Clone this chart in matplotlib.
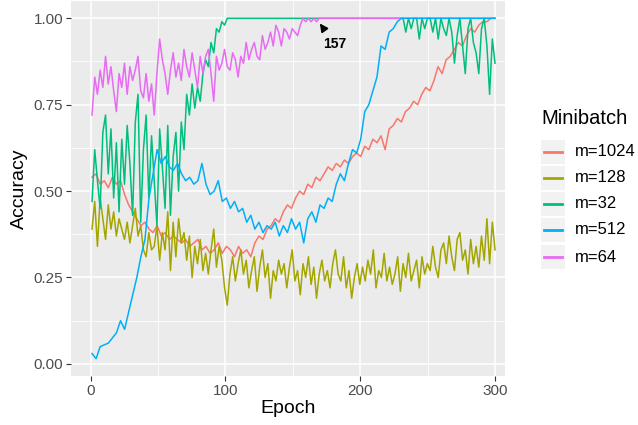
import numpy as np
import matplotlib
matplotlib.use("Agg")
import matplotlib.pyplot as plt
from matplotlib.patches import Rectangle
from matplotlib.lines import Line2D

plt.rcParams['font.family'] = ['Liberation Sans', 'DejaVu Sans']

# smoother runs read every ~3 epochs, noisy runs every ~2 epochs
epochs_3 = np.linspace(1, 300, 100)
epochs_2 = np.linspace(1, 300, 150)

acc_1024 = [0.54, 0.55, 0.52, 0.53, 0.51, 0.54, 0.52, 0.53, 0.49, 0.46,
            0.44, 0.42, 0.40, 0.41, 0.39, 0.38, 0.40, 0.37, 0.38, 0.36,
            0.37, 0.36, 0.35, 0.36, 0.34, 0.35, 0.36, 0.33, 0.34, 0.32,
            0.33, 0.35, 0.32, 0.34, 0.33, 0.31, 0.34, 0.32, 0.33, 0.31,
            0.35, 0.37, 0.36, 0.39, 0.40, 0.42, 0.41, 0.44, 0.46, 0.45,
            0.48, 0.50, 0.49, 0.52, 0.51, 0.54, 0.53, 0.55, 0.57, 0.56,
            0.58, 0.57, 0.59, 0.58, 0.60, 0.61, 0.60, 0.63, 0.62, 0.65,
            0.64, 0.66, 0.62, 0.68, 0.69, 0.71, 0.70, 0.73, 0.74, 0.76,
            0.75, 0.78, 0.80, 0.79, 0.82, 0.86, 0.84, 0.88, 0.89, 0.91,
            0.93, 0.92, 0.95, 0.97, 0.96, 0.98, 0.99, 0.99, 1.00, 1.00]

acc_128 = [0.39, 0.47, 0.34, 0.48, 0.42, 0.36, 0.46, 0.39, 0.44, 0.37,
           0.42, 0.39, 0.36, 0.41, 0.35, 0.40, 0.45, 0.37, 0.40, 0.33,
           0.31, 0.38, 0.33, 0.34, 0.40, 0.30, 0.38, 0.33, 0.44, 0.27,
           0.41, 0.31, 0.42, 0.35, 0.38, 0.30, 0.37, 0.25, 0.34, 0.29,
           0.36, 0.27, 0.32, 0.26, 0.33, 0.39, 0.28, 0.34, 0.30, 0.22,
           0.17, 0.26, 0.31, 0.24, 0.29, 0.33, 0.26, 0.30, 0.22, 0.27,
           0.31, 0.21, 0.28, 0.33, 0.25, 0.29, 0.19, 0.27, 0.24, 0.30,
           0.26, 0.29, 0.22, 0.28, 0.33, 0.24, 0.27, 0.20, 0.29, 0.25,
           0.31, 0.23, 0.28, 0.19, 0.26, 0.30, 0.24, 0.27, 0.22, 0.29,
           0.33, 0.26, 0.24, 0.31, 0.22, 0.27, 0.19, 0.25, 0.29, 0.23,
           0.28, 0.24, 0.30, 0.26, 0.33, 0.22, 0.27, 0.25, 0.32, 0.24,
           0.28, 0.23, 0.26, 0.31, 0.21, 0.29, 0.25, 0.32, 0.24, 0.27,
           0.30, 0.22, 0.31, 0.26, 0.29, 0.27, 0.34, 0.28, 0.25, 0.33,
           0.35, 0.29, 0.37, 0.31, 0.27, 0.36, 0.38, 0.30, 0.33, 0.26,
           0.36, 0.29, 0.34, 0.28, 0.37, 0.30, 0.42, 0.29, 0.41, 0.33]

acc_32 = ([0.47, 0.62, 0.53, 0.45, 0.67, 0.72, 0.55, 0.68, 0.48, 0.64,
           0.44, 0.65, 0.52, 0.69, 0.58, 0.43, 0.70, 0.78, 0.41, 0.62,
           0.72, 0.48, 0.66, 0.53, 0.40, 0.68, 0.57, 0.45, 0.69, 0.43,
           0.60, 0.67, 0.50, 0.70, 0.62, 0.78, 0.72, 0.81, 0.74, 0.80,
           0.76, 0.84, 0.88, 0.86, 0.93, 0.90, 0.97, 0.96, 0.99, 0.98]
          + [1.00] * 65
          + [1.00, 0.96, 1.00, 0.97, 1.00, 1.00, 0.94, 1.00, 0.97, 1.00,
             1.00, 0.96, 1.00, 0.94, 1.00, 0.97, 0.95, 1.00, 0.96, 0.87,
             0.95, 1.00, 0.92, 0.84, 0.97, 1.00, 0.93, 0.90, 0.84, 0.97,
             1.00, 0.92, 0.78, 0.94, 0.87])

acc_512 = ([0.03, 0.015, 0.05, 0.055, 0.06, 0.075, 0.09, 0.125, 0.10, 0.15,
            0.20, 0.25, 0.31, 0.36, 0.48, 0.55, 0.62, 0.58, 0.60, 0.57,
            0.56, 0.58, 0.55, 0.53, 0.54, 0.52, 0.53, 0.58, 0.52, 0.49,
            0.50, 0.53, 0.47, 0.48, 0.45, 0.47, 0.44, 0.45, 0.41, 0.43,
            0.39, 0.41, 0.38, 0.40, 0.39, 0.41, 0.37, 0.40, 0.38, 0.42,
            0.39, 0.41, 0.35, 0.42, 0.44, 0.41, 0.46, 0.45, 0.48, 0.47,
            0.52, 0.55, 0.53, 0.58, 0.62, 0.61, 0.65, 0.73, 0.75, 0.79,
            0.83, 0.92, 0.91, 0.96, 0.97, 0.99]
           + [1.00] * 24)

acc_64 = ([0.72, 0.83, 0.78, 0.85, 0.80, 0.89, 0.81, 0.86, 0.79, 0.73,
           0.84, 0.80, 0.87, 0.78, 0.86, 0.82, 0.85, 0.89, 0.79, 0.77,
           0.84, 0.76, 0.81, 0.72, 0.84, 0.94, 0.88, 0.84, 0.78, 0.85,
           0.90, 0.83, 0.87, 0.82, 0.91, 0.86, 0.83, 0.90, 0.85, 0.80,
           0.89, 0.84, 0.89, 0.91, 0.84, 0.76, 0.89, 0.85, 0.87, 0.91,
           0.86, 0.85, 0.90, 0.88, 0.83, 0.89, 0.87, 0.93, 0.88, 0.91,
           0.93, 0.89, 0.88, 0.95, 0.91, 0.93, 0.96, 0.92, 0.98, 0.96,
           0.92, 0.97, 0.96, 0.94, 0.97, 0.96, 0.95, 0.98, 1.00, 0.99,
           1.00, 0.99, 1.00, 0.99]
          + [1.00] * 66)

labels = ["m=1024", "m=128", "m=32", "m=512", "m=64"]
colors = ["#F8766D", "#A3A500", "#00BF7D", "#00B0F6", "#E76BF3"]
series = [(epochs_3, acc_1024), (epochs_2, acc_128), (epochs_2, acc_32),
          (epochs_3, acc_512), (epochs_2, acc_64)]
zorders = [2, 3, 4, 6, 5]

W, H = 638, 425
fig = plt.figure(figsize=(W / 100, H / 100), dpi=100)
ax = fig.add_axes([71 / W, 1 - 376 / H, (505 - 71) / W, (376 - 1) / H])
ax.set_facecolor("#EBEBEB")

for (ep, vals), col, z in zip(series, colors, zorders):
    ax.plot(ep, vals, color=col, lw=1.1, zorder=z)

ax.set_xlim(-14.6, 307.4)
ax.set_ylim(-0.035, 1.05)
ax.set_xticks([0, 100, 200, 300])
ax.set_xticks([50, 150, 250], minor=True)
ax.set_yticks([0, 0.25, 0.5, 0.75, 1.0])
ax.set_yticklabels(["0.00", "0.25", "0.50", "0.75", "1.00"])
ax.set_yticks([0.125, 0.375, 0.625, 0.875], minor=True)
ax.grid(which="major", color="white", lw=1.1, zorder=0)
ax.grid(which="minor", color="white", lw=0.55, zorder=0)
ax.set_axisbelow(True)
for s in ax.spines.values():
    s.set_visible(False)
ax.tick_params(which="major", length=3.5, width=0.8, color="#333333",
               labelsize=11, labelcolor="#4D4D4D", pad=2)
ax.tick_params(which="minor", length=0)

ax.set_xlabel("Epoch", fontsize=14, labelpad=2)
ax.set_ylabel("Accuracy", fontsize=14, labelpad=4)

ax.annotate("157", xy=(170, 0.985), xytext=(181, 0.925),
            fontsize=10, fontweight="bold", ha="center", va="center",
            arrowprops=dict(arrowstyle="-|>", color="black", lw=1.2,
                            mutation_scale=12, shrinkA=4, shrinkB=0),
            zorder=10)

# legend drawn by hand, ggplot-like
fig.text(541 / W, 1 - 118 / H, "Minibatch", fontsize=14.5, va="center", ha="left")
rows = [152, 178, 204, 230, 257]
for lab, col, py in zip(labels, colors, rows):
    fig.add_artist(Rectangle((541 / W, 1 - (py + 12) / H), 24 / W, 24 / H,
                             transform=fig.transFigure, facecolor="#F2F2F2",
                             edgecolor="none"))
    fig.add_artist(Line2D([544 / W, 562 / W], [1 - py / H, 1 - py / H],
                          transform=fig.transFigure, color=col, lw=2))
    fig.text(575 / W, 1 - py / H, lab, fontsize=12, va="center", ha="left")

fig.savefig("out.png", dpi=100)
